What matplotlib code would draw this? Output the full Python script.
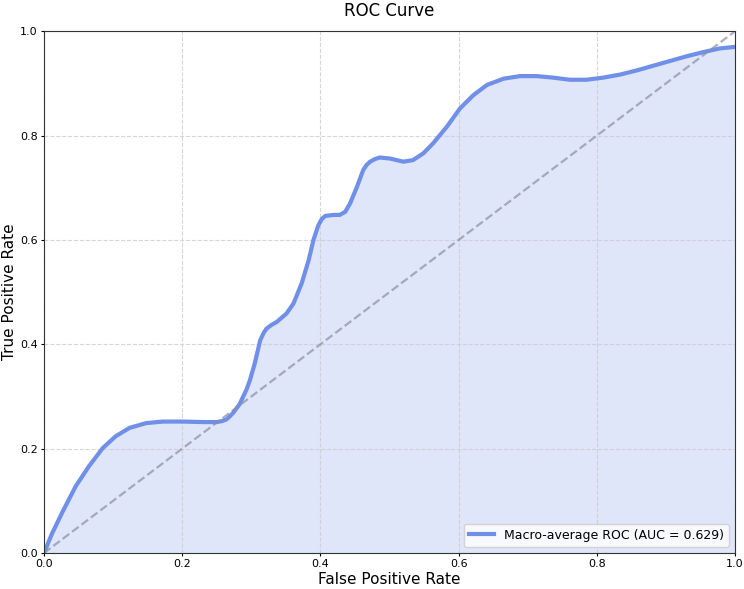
import numpy as np
import matplotlib
matplotlib.use("Agg")
import matplotlib.pyplot as plt

fpr = [0.000, 0.006, 0.012, 0.027, 0.046, 0.065, 0.085, 0.104, 0.124, 0.148, 0.172,
       0.201, 0.230, 0.250, 0.258, 0.264, 0.269, 0.274, 0.283, 0.293, 0.298, 0.305, 0.313,
       0.318, 0.322, 0.329, 0.337, 0.351, 0.361, 0.373, 0.383, 0.390, 0.397, 0.402, 0.407, 0.419,
       0.428, 0.436, 0.443, 0.453, 0.462, 0.467, 0.472, 0.479, 0.486, 0.501, 0.520, 0.534,
       0.549, 0.563, 0.583, 0.602, 0.621, 0.641, 0.665, 0.689, 0.713, 0.737,
       0.761, 0.785, 0.809, 0.834, 0.858, 0.882, 0.906, 0.930, 0.954, 0.978,
       1.000]
tpr = [0.000, 0.019, 0.038, 0.079, 0.128, 0.166, 0.201, 0.224, 0.240, 0.249, 0.252,
       0.252, 0.251, 0.251, 0.253, 0.256, 0.262, 0.269, 0.285, 0.313, 0.331, 0.363, 0.408,
       0.422, 0.430, 0.437, 0.443, 0.459, 0.478, 0.517, 0.561, 0.600, 0.628, 0.640, 0.646, 0.648,
       0.648, 0.654, 0.670, 0.702, 0.734, 0.744, 0.750, 0.755, 0.758, 0.756, 0.750, 0.753,
       0.766, 0.785, 0.817, 0.852, 0.877, 0.897, 0.909, 0.914, 0.914, 0.911,
       0.907, 0.907, 0.911, 0.917, 0.925, 0.934, 0.943, 0.952, 0.960, 0.967,
       0.970]
auc = 0.629
color = '#6f8fe8'

fig, ax = plt.subplots(figsize=(7.44, 5.89), dpi=100)
fig.subplots_adjust(left=0.059, right=0.988, top=0.947, bottom=0.061)

ax.plot(fpr, tpr, color=color, lw=3, label=f'Macro-average ROC (AUC = {auc:.3f})',
        solid_joinstyle='round')
ax.fill_between(fpr, tpr, 0, color=color, alpha=0.22, lw=0)
ax.plot([0, 1], [0, 1], linestyle='--', color='#8a8ea3', alpha=0.7, lw=1.6)

ax.set_xlim(0, 1)
ax.set_ylim(0, 1)
ax.set_xticks(np.arange(0, 1.01, 0.2))
ax.set_yticks(np.arange(0, 1.01, 0.2))
ax.tick_params(labelsize=8, length=2.5, pad=2)
ax.grid(True, linestyle='--', color='#cccccc', alpha=0.8, lw=0.8)
for s in ax.spines.values():
    s.set_color('#333333')

ax.set_title('ROC Curve', fontsize=12, pad=11)
ax.set_xlabel('False Positive Rate', fontsize=11, labelpad=2)
ax.set_ylabel('True Positive Rate', fontsize=11, labelpad=2)
ax.legend(loc='lower right', fontsize=9)

fig.savefig('out.png', dpi=100)
